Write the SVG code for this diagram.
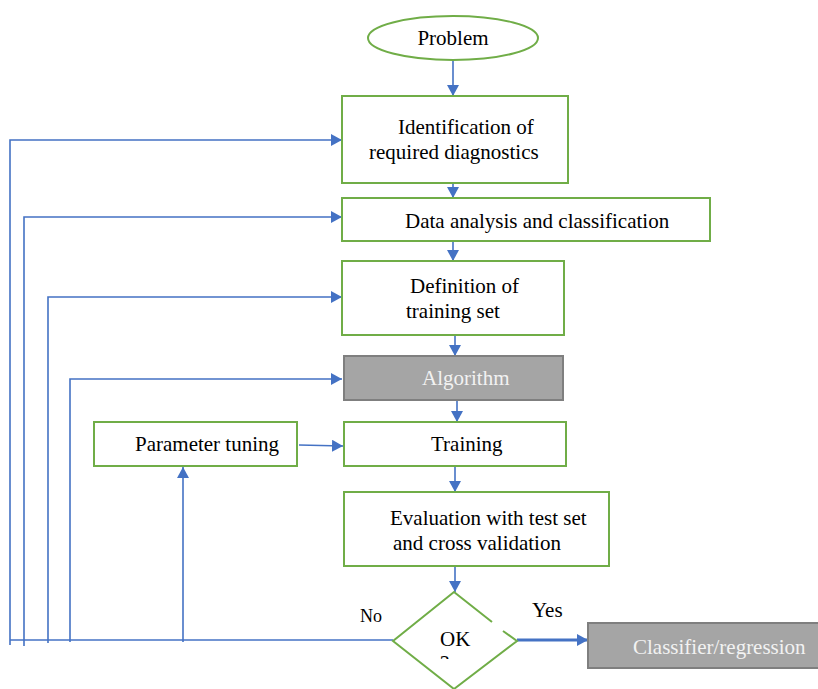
<svg xmlns="http://www.w3.org/2000/svg" width="818" height="689" viewBox="0 0 818 689">
<style>
.box{fill:#ffffff;stroke:#70ad47;stroke-width:2}
.gbox{fill:#a5a5a5;stroke:#7f7f7f;stroke-width:2}
.t{font-family:"Liberation Serif","Times New Roman",serif;font-size:21px;fill:#000000}
.tw{font-family:"Liberation Serif","Times New Roman",serif;font-size:21px;fill:#f2f2f2}
.c{fill:none;stroke:#4472c4;stroke-width:1.6}
.ca{fill:none;stroke:#4472c4;stroke-width:1.6;marker-end:url(#ah)}
</style>
<defs>
<marker id="ah" markerUnits="userSpaceOnUse" markerWidth="11" markerHeight="12" refX="11" refY="6" orient="auto">
<path d="M0,0 L11,6 L0,12 z" fill="#4472c4"/>
</marker>
<clipPath id="qclip"><rect x="430" y="640" width="40" height="19"/></clipPath>
</defs>
<rect width="818" height="689" fill="#ffffff"/>

<g id="connectors">
<line class="ca" x1="453" y1="60" x2="453" y2="96"/>
<line class="ca" x1="453" y1="183" x2="453" y2="198"/>
<line class="ca" x1="453" y1="241" x2="453" y2="261"/>
<line class="ca" x1="455" y1="335" x2="455" y2="356"/>
<line class="ca" x1="457" y1="400" x2="457" y2="422"/>
<line class="ca" x1="299" y1="445" x2="343" y2="446"/>
<line class="ca" x1="455" y1="466" x2="455" y2="492"/>
<line class="ca" x1="455" y1="566" x2="455" y2="592"/>
<line x1="517" y1="640" x2="588" y2="640" stroke="#4472c4" stroke-width="2.8" marker-end="url(#ah)"/>
<line class="c" x1="10" y1="640" x2="393" y2="640"/>
<polyline class="ca" points="10,645 10,140 342,140"/>
<polyline class="ca" points="24,646 24,217 342,217"/>
<polyline class="ca" points="48,643 48,297 342,297"/>
<polyline class="ca" points="70,642 70,379 342,379"/>
<line class="ca" x1="183" y1="642" x2="183" y2="467"/>
</g>

<g id="problem">
<ellipse cx="453" cy="38" rx="85" ry="22" fill="#ffffff" stroke="#70ad47" stroke-width="2"/>
<text class="t" x="453" y="45" text-anchor="middle">Problem</text>
</g>
<g id="identification">
<rect class="box" x="342" y="96" width="226" height="87"/>
<text class="t" x="398" y="134">Identification of</text>
<text class="t" x="369" y="159">required diagnostics</text>
</g>
<g id="data-analysis">
<rect class="box" x="342" y="198" width="368" height="43"/>
<text class="t" x="405" y="228">Data analysis and classification</text>
</g>
<g id="definition">
<rect class="box" x="342" y="261" width="222" height="74"/>
<text class="t" x="410" y="293">Definition of</text>
<text class="t" x="406" y="318">training set</text>
</g>
<g id="algorithm">
<rect class="gbox" x="344" y="356" width="219" height="44"/>
<text class="tw" x="422" y="385">Algorithm</text>
</g>
<g id="parameter-tuning">
<rect class="box" x="94" y="422" width="203" height="44"/>
<text class="t" x="135" y="451">Parameter tuning</text>
</g>
<g id="training">
<rect class="box" x="344" y="422" width="222" height="44"/>
<text class="t" x="431" y="451">Training</text>
</g>
<g id="evaluation">
<rect class="box" x="344" y="492" width="265" height="74"/>
<text class="t" x="390" y="525">Evaluation with test set</text>
<text class="t" x="393" y="550">and cross validation</text>
</g>
<g id="ok">
<polyline points="492,622 454,592 393,641 454,689 517,641 503,631" fill="none" stroke="#70ad47" stroke-width="2"/>
<text class="t" x="440" y="646">OK</text>
<text class="t" x="440" y="670" clip-path="url(#qclip)">?</text>
</g>
<g id="classifier">
<rect class="gbox" x="588" y="623" width="240" height="45"/>
<text class="tw" x="633" y="654">Classifier/regression</text>
</g>
<g id="labels">
<text class="t" x="360" y="622" style="font-size:18px">No</text>
<text class="t" x="532" y="617">Yes</text>
</g>
</svg>
